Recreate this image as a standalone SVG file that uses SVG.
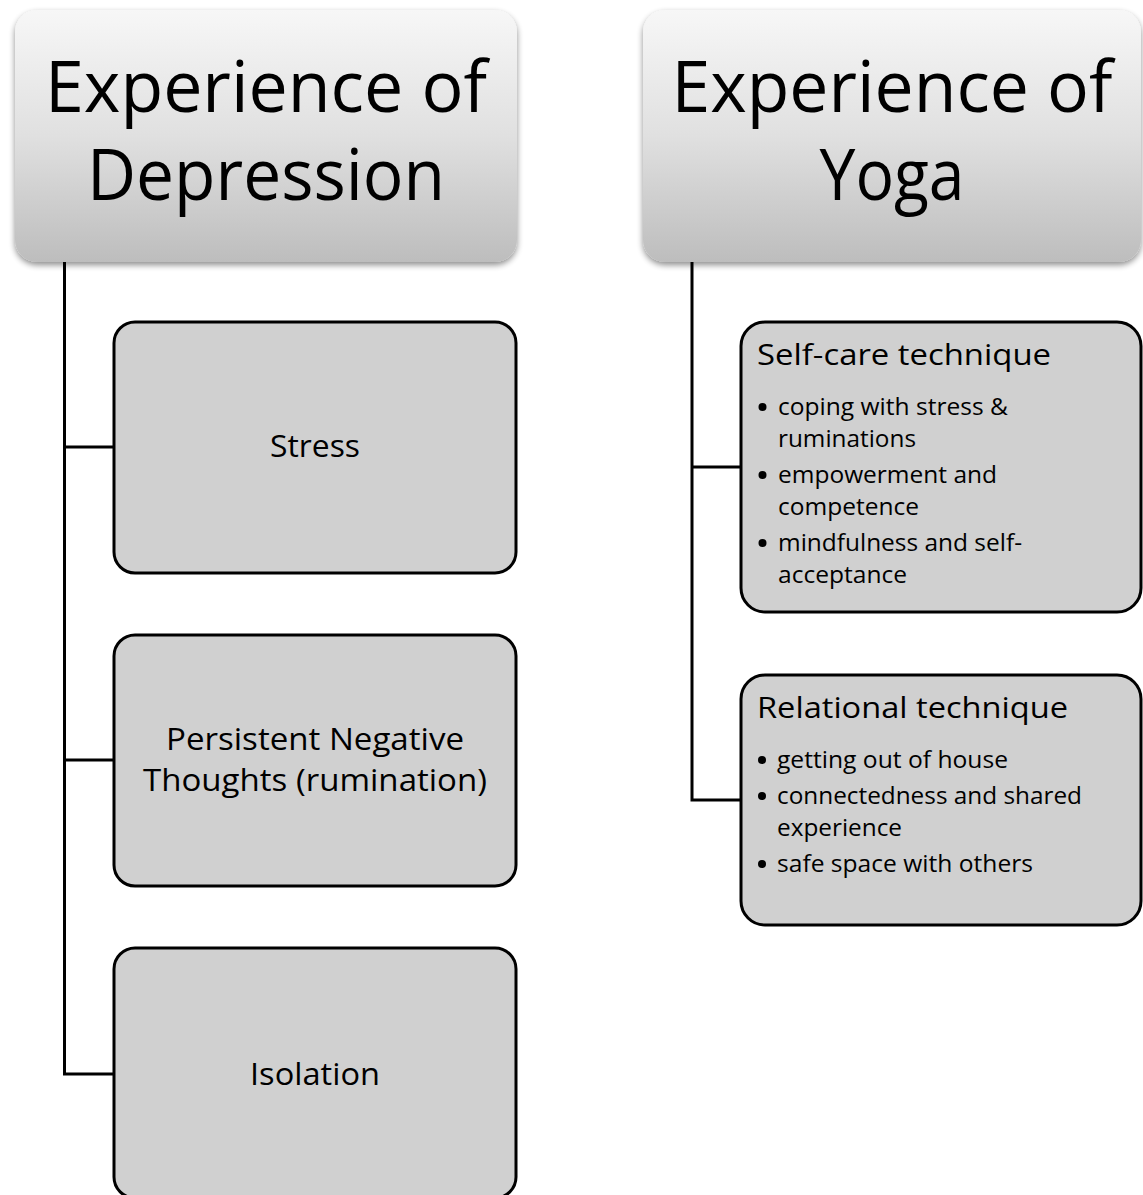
<svg xmlns="http://www.w3.org/2000/svg" width="1143" height="1195" viewBox="0 0 1143 1195">
<defs>
<linearGradient id="hdr" x1="0" y1="0" x2="0" y2="1">
<stop offset="0" stop-color="#f7f7f7"/>
<stop offset="0.5" stop-color="#e0e0e0"/>
<stop offset="1" stop-color="#bdbdbd"/>
</linearGradient>
<filter id="shadow" x="-10%" y="-10%" width="120%" height="125%">
<feGaussianBlur in="SourceAlpha" stdDeviation="3"/>
<feOffset dx="0" dy="3" result="b"/>
<feComponentTransfer><feFuncA type="linear" slope="0.45"/></feComponentTransfer>
<feMerge><feMergeNode/><feMergeNode in="SourceGraphic"/></feMerge>
</filter>
<style>
text{font-family:"Open Sans","Noto Sans","DejaVu Sans",sans-serif;fill:#000;}
.hdr{fill:url(#hdr);stroke:none;filter:url(#shadow);}
.hdrt{font-size:71px;text-anchor:middle;}
.box{fill:#d0d0d0;stroke:#000;stroke-width:3;}
.nt{font-size:31px;text-anchor:middle;}
.tt{font-size:30px;}
.bt{font-size:24px;}
.bul{fill:#000;}
.conn{fill:none;stroke:#000;stroke-width:3;}
</style>
</defs>
<rect width="1143" height="1195" fill="#fff"/>
<g id="connectors">
<path class="conn" d="M64.5 262 V1074 H114 M64.5 447 H114 M64.5 760 H114"/>
<path class="conn" d="M692 262 V800 H741 M692 467 H741"/>
</g>
<g id="depression">
<rect class="hdr" x="15" y="10" width="502" height="252" rx="22"/>
<text class="hdrt" x="266" y="112" textLength="442" lengthAdjust="spacingAndGlyphs">Experience of</text>
<text class="hdrt" x="266" y="200" textLength="358" lengthAdjust="spacingAndGlyphs">Depression</text>
</g>
<g id="yoga">
<rect class="hdr" x="643" y="10" width="498" height="252" rx="22"/>
<text class="hdrt" x="892" y="112" textLength="441" lengthAdjust="spacingAndGlyphs">Experience of</text>
<text class="hdrt" x="892" y="200" textLength="145" lengthAdjust="spacingAndGlyphs">Yoga</text>
</g>
<g id="stress">
<rect class="box" x="114" y="322" width="402" height="251" rx="21"/>
<text class="nt" x="315" y="457" textLength="90" lengthAdjust="spacingAndGlyphs">Stress</text>
</g>
<g id="rumination">
<rect class="box" x="114" y="635" width="402" height="251" rx="21"/>
<text class="nt" x="315" y="750" textLength="298" lengthAdjust="spacingAndGlyphs">Persistent Negative</text>
<text class="nt" x="315" y="791" textLength="344" lengthAdjust="spacingAndGlyphs">Thoughts (rumination)</text>
</g>
<g id="isolation">
<rect class="box" x="114" y="948" width="402" height="250" rx="21"/>
<text class="nt" x="315" y="1085" textLength="130" lengthAdjust="spacingAndGlyphs">Isolation</text>
</g>
<g id="selfcare">
<rect class="box" x="741" y="322" width="400" height="290" rx="24"/>
<text class="tt" x="757" y="365" textLength="294" lengthAdjust="spacingAndGlyphs">Self-care technique</text>
<circle class="bul" cx="762.5" cy="407" r="4"/>
<text class="bt" x="778" y="415" textLength="230" lengthAdjust="spacingAndGlyphs">coping with stress &amp;</text>
<text class="bt" x="778" y="447" textLength="138" lengthAdjust="spacingAndGlyphs">ruminations</text>
<circle class="bul" cx="762.5" cy="475" r="4"/>
<text class="bt" x="778" y="483" textLength="219" lengthAdjust="spacingAndGlyphs">empowerment and</text>
<text class="bt" x="778" y="515" textLength="141" lengthAdjust="spacingAndGlyphs">competence</text>
<circle class="bul" cx="762.5" cy="543" r="4"/>
<text class="bt" x="778" y="551" textLength="244" lengthAdjust="spacingAndGlyphs">mindfulness and self-</text>
<text class="bt" x="778" y="583" textLength="129" lengthAdjust="spacingAndGlyphs">acceptance</text>
</g>
<g id="relational">
<rect class="box" x="741" y="675" width="400" height="250" rx="24"/>
<text class="tt" x="757" y="718" textLength="311" lengthAdjust="spacingAndGlyphs">Relational technique</text>
<circle class="bul" cx="762" cy="760" r="4"/>
<text class="bt" x="777" y="768" textLength="231" lengthAdjust="spacingAndGlyphs">getting out of house</text>
<circle class="bul" cx="762" cy="796" r="4"/>
<text class="bt" x="777" y="804" textLength="305" lengthAdjust="spacingAndGlyphs">connectedness and shared</text>
<text class="bt" x="777" y="836" textLength="125" lengthAdjust="spacingAndGlyphs">experience</text>
<circle class="bul" cx="762" cy="864" r="4"/>
<text class="bt" x="777" y="872" textLength="256" lengthAdjust="spacingAndGlyphs">safe space with others</text>
</g>
</svg>
